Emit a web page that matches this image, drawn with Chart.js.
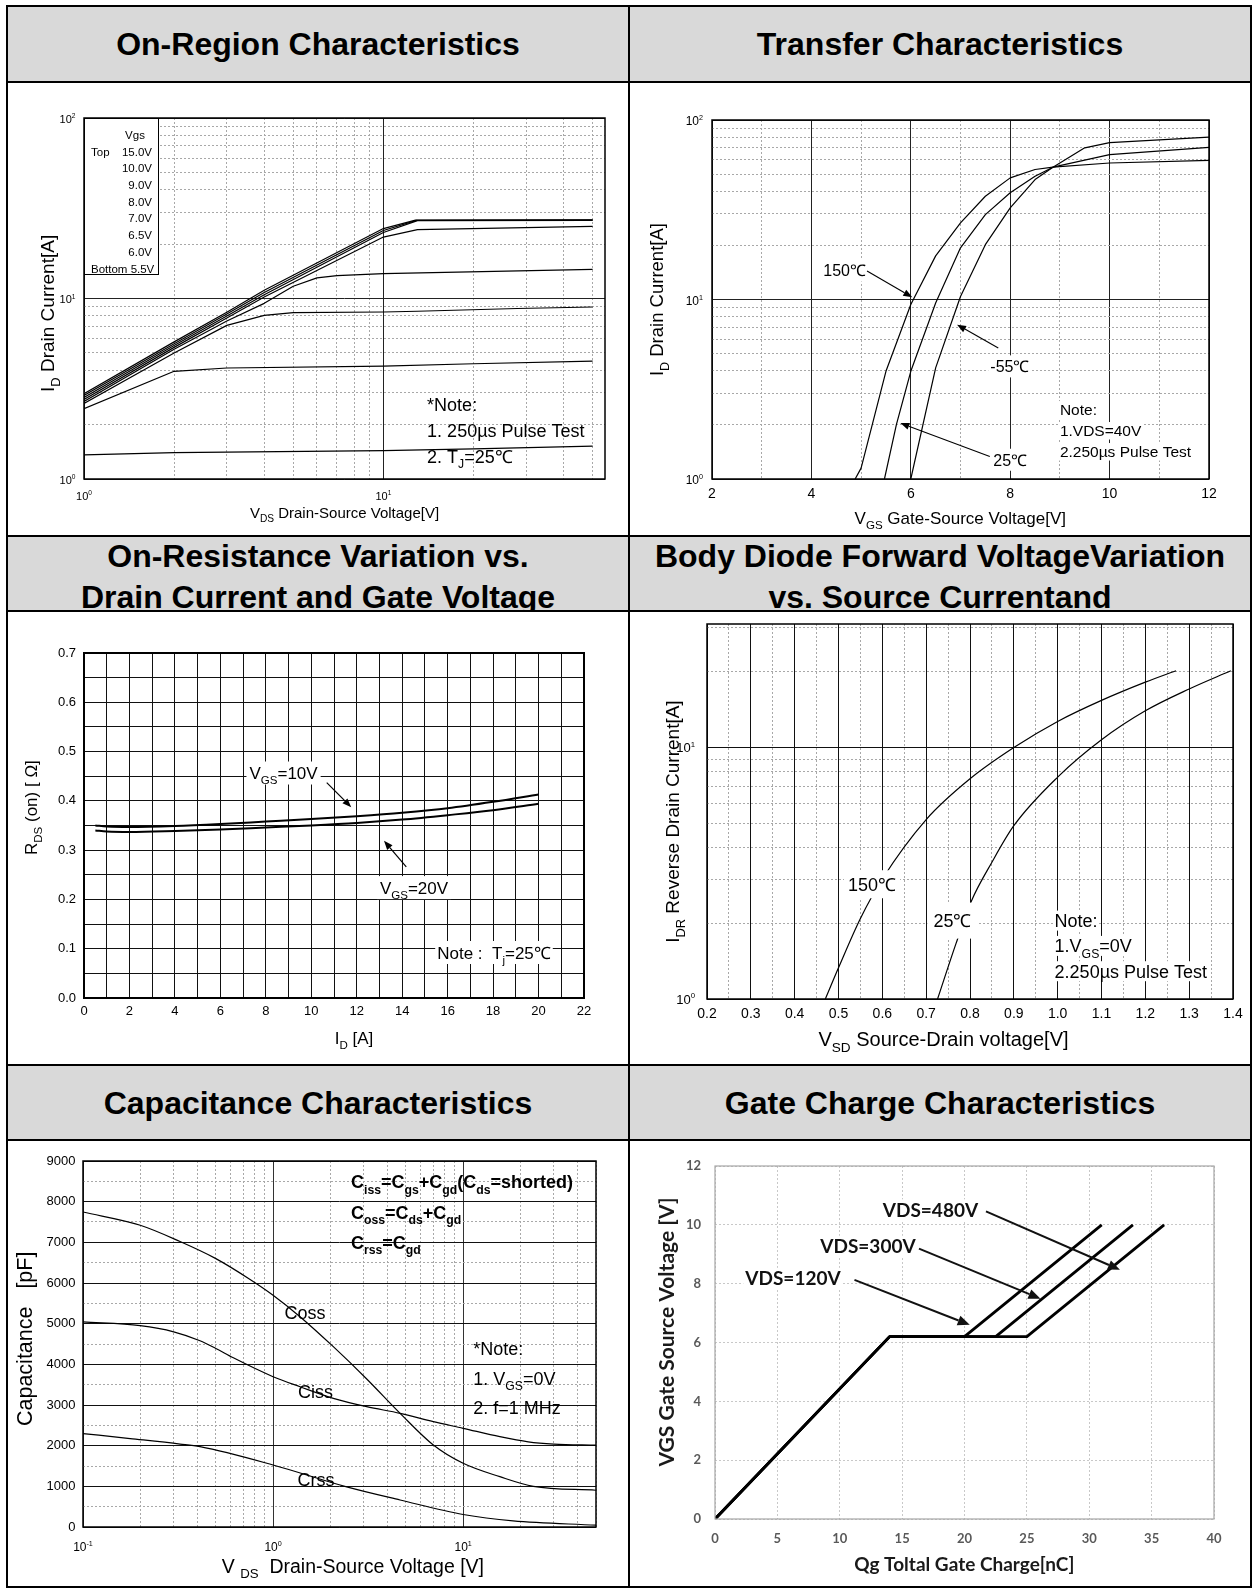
<!DOCTYPE html>
<html>
<head>
<meta charset="utf-8">
<title>MOSFET characteristic curves</title>
<script src="https://cdn.jsdelivr.net/npm/chart.js@4.4.1/dist/chart.umd.min.js"></script>
<style>
html,body{margin:0;padding:0;background:#fff;}
#page{position:relative;width:1254px;height:1589px;overflow:hidden;background:#fff;}
.hdr{position:absolute;background:#d9d9d9;overflow:hidden;}
.hdr div{position:absolute;left:0;right:0;text-align:center;font:bold 32px/41px "Liberation Sans",Arial,sans-serif;color:#000;white-space:nowrap;}
.ln{position:absolute;background:#000;z-index:5;}
canvas{position:absolute;}
</style>
</head>
<body>
<div id="page">
  <div class="hdr" style="left:8px;top:7px;width:620px;height:74px"><div style="top:17px">On-Region Characteristics</div></div>
  <div class="hdr" style="left:630px;top:7px;width:620px;height:74px"><div style="top:17px">Transfer Characteristics</div></div>
  <div class="hdr" style="left:8px;top:537px;width:620px;height:73px"><div style="top:-1.5px">On-Resistance Variation vs.<br>Drain Current and Gate Voltage</div></div>
  <div class="hdr" style="left:630px;top:537px;width:620px;height:73px"><div style="top:-1.5px">Body Diode Forward VoltageVariation<br>vs. Source Currentand</div></div>
  <div class="hdr" style="left:8px;top:1066px;width:620px;height:73px"><div style="top:16.5px">Capacitance Characteristics</div></div>
  <div class="hdr" style="left:630px;top:1066px;width:620px;height:73px"><div style="top:16.5px">Gate Charge Characteristics</div></div>

  <div class="ln" style="left:6px;top:5px;width:2px;height:1583px"></div>
  <div class="ln" style="left:628px;top:5px;width:2px;height:1583px"></div>
  <div class="ln" style="left:1250px;top:5px;width:2px;height:1583px"></div>
  <div class="ln" style="left:6px;top:5px;width:1246px;height:2px"></div>
  <div class="ln" style="left:6px;top:81px;width:1246px;height:2px"></div>
  <div class="ln" style="left:6px;top:535px;width:1246px;height:2px"></div>
  <div class="ln" style="left:6px;top:610px;width:1246px;height:2px"></div>
  <div class="ln" style="left:6px;top:1064px;width:1246px;height:2px"></div>
  <div class="ln" style="left:6px;top:1139px;width:1246px;height:2px"></div>
  <div class="ln" style="left:6px;top:1586px;width:1246px;height:2px"></div>
</div>
<script>
const FONT = '"Liberation Sans", Arial, Helvetica, sans-serif';
const FONT6 = 'Lato, "Liberation Sans", Arial, sans-serif';

// ================= DATA =================
// --- Chart 1: On-Region Characteristics (log-log) ---
const onXTicks = [1,2,3,4,5,6,7,8,9,10,20,30,40,50];
const onYTicks = [1,2,3,4,5,6,7,8,9,10,20,30,40,50,60,70,80,90,100];
const onXLabelVals = [1,10];
const onYLabelVals = [1,10,100];
const onLegendTitle = 'Vgs';
const onLegendLabels = ['15.0V','10.0V','9.0V','8.0V','7.0V','6.5V','6.0V','5.5V'];
const on15Vds = [1,2,3,4,10,12.8,50];
const on15Id  = [2.97,5.75,8.4,11.1,24.4,27.2,27.3];
const on10Vds = [1,2,3,4,10,12.9,50];
const on10Id  = [2.90,5.62,8.2,10.8,23.8,27.1,27.2];
const on9Vds  = [1,2,3,4,10,13.0,50];
const on9Id   = [2.83,5.49,8.0,10.5,23.2,27.0,27.1];
const on8Vds  = [1,2,3,4,10,13.0,50];
const on8Id   = [2.76,5.36,7.8,10.2,21.9,24.1,25.1];
const on7Vds  = [1,2,3,4,5,6,7,10,50];
const on7Id   = [2.69,5.24,7.5,9.4,11.7,13.0,13.4,13.75,14.5];
const on65Vds = [1,2,3,4,5,10,13,28,50];
const on65Id  = [2.62,4.99,7.1,8.07,8.35,8.42,8.5,8.8,8.97];
const on6Vds  = [1,2,3,10,20,50];
const on6Id   = [2.45,3.95,4.12,4.22,4.35,4.5];
const on55Vds = [1,2,10,20,50];
const on55Id  = [1.36,1.40,1.435,1.47,1.52];

// --- Chart 2: Transfer Characteristics ---
const trXTicks = [2,3,4,5,6,7,8,9,10,11,12];
const trYTicks = [1,2,3,4,5,6,7,8,9,10,20,30,40,50,60,70,80,90,100];
const trYLabelVals = [1,10,100];
const tr150Vgs = [4.88,5.0,5.5,6.0,6.5,7.0,7.5,8.0,8.5,8.86,10,12];
const tr150Id  = [1.0,1.15,3.98,9.37,17.5,26.7,37.6,47.6,53.0,54.6,57.6,59.6];
const tr25Vgs  = [5.47,5.71,6.0,6.5,7.0,7.5,8.0,8.5,8.86,10,12];
const tr25Id   = [1.0,2.01,3.98,9.57,19.4,29.7,39.3,48.6,54.6,64.2,70.3];
const trM55Vgs = [6.0,6.5,7.0,7.5,8.0,8.5,8.86,9.5,10,12];
const trM55Id  = [1.0,4.16,10.4,20.2,32.4,46.6,54.6,70.0,74.8,80.2];

// --- Chart 3: On-Resistance vs Drain Current ---
const rdsXTicks = [0,1,2,3,4,5,6,7,8,9,10,11,12,13,14,15,16,17,18,19,20,21,22];
const rdsYTicks = [0,0.05,0.1,0.15,0.2,0.25,0.3,0.35,0.4,0.45,0.5,0.55,0.6,0.65,0.7];
const rdsId  = [0.5,1,2,4,6,8,10,12,14,16,18,20];
const rds10V = [0.350,0.348,0.347,0.349,0.353,0.358,0.363,0.369,0.376,0.385,0.398,0.413];
const rds20V = [0.340,0.338,0.337,0.339,0.342,0.346,0.350,0.355,0.362,0.371,0.381,0.394];

// --- Chart 4: Body Diode Forward Voltage ---
const bdXTicks = [0.2,0.25,0.3,0.35,0.4,0.45,0.5,0.55,0.6,0.65,0.7,0.75,0.8,0.85,0.9,0.95,1.0,1.05,1.1,1.15,1.2,1.25,1.3,1.35,1.4];
const bdYTicks = [1,2,3,4,5,6,7,8,9,10,20,30];
const bdYLabelVals = [1,10];
const bd150Vsd = [0.47,0.5,0.55,0.6,0.7,0.8,0.9,1.0,1.1,1.2,1.27];
const bd150Idr = [1.0,1.33,2.09,3.0,5.17,7.51,10.0,12.7,15.4,18.2,20.2];
const bd25Vsd  = [0.726,0.768,0.803,0.85,0.9,1.0,1.1,1.2,1.3,1.395];
const bd25Idr  = [1.0,1.66,2.45,3.5,4.89,7.63,10.74,14.0,17.1,20.2];

// --- Chart 5: Capacitance Characteristics ---
const capXTicks = [0.1,0.2,0.3,0.4,0.5,0.6,0.7,0.8,0.9,1,2,3,4,5,6,7,8,9,10,20,30,40,50];
const capYTicks = [0,500,1000,1500,2000,2500,3000,3500,4000,4500,5000,5500,6000,6500,7000,7500,8000,8500,9000];
const capXLabelVals = [0.1,1,10];
const cossVds = [0.1,0.2,0.324,0.5,0.75,1.0,1.386,2.075,3.11,4.66,6.97,10,15.6,23.4,50];
const cossPf  = [7746,7420,7020,6600,6100,5700,5172,4434,3640,2795,2016,1566,1237,1000,904];
const cissVds = [0.1,0.2,0.3,0.4126,0.5,0.618,1.0,1.386,2.075,3.11,4.66,6.97,10,15.6,22,30,50];
const cissPf  = [5042,4950,4800,4580,4390,4160,3696,3450,3164,2958,2795,2590,2427,2221,2095,2040,2011];
const crssVds = [0.1,0.177,0.324,0.4126,1.0,2.44,4.66,10,18.3,50];
const crssPf  = [2298,2175,2040,1975,1525,986,664,307,150,44];

// --- Chart 6: Gate Charge Characteristics ---
const gcXTicks = [0,5,10,15,20,25,30,35,40];
const gcYTicks = [0,2,4,6,8,10,12];
const gc120Qg  = [0,14,20,31];
const gc120Vgs = [0,6.2,6.2,10];
const gc300Qg  = [0,14,22.5,33.5];
const gc300Vgs = [0,6.2,6.2,10];
const gc480Qg  = [0,14,25,36];
const gc480Vgs = [0,6.2,6.2,10];

// ================= HELPERS =================
const page = document.getElementById('page');
const isPow10 = v => Math.abs(Math.log10(v) - Math.round(Math.log10(v))) < 1e-6;
const isTenth = v => Math.abs(Math.round(v * 100) % 10) === 0;

function pts(xs, ys) { return xs.map((x, i) => ({x: x, y: ys[i]})); }
function ds(xs, ys, w, smooth) {
  return {data: pts(xs, ys), borderColor: '#000', borderWidth: w, pointRadius: 0, fill: false,
          tension: 0, cubicInterpolationMode: smooth ? 'monotone' : 'default', borderJoinStyle: 'round'};
}

function rich(ctx, segs, x, y, o) {
  const size = o.size, fam = o.family || FONT, wt = o.weight || 'normal';
  const parts = segs.map(s => {
    const m = s[1] || '';
    const fs = m === 'sub' ? size * 0.68 : m === 'sup' ? size * 0.6 : size;
    ctx.font = wt + ' ' + fs + 'px ' + fam;
    return {t: s[0], m: m, fs: fs, w: ctx.measureText(s[0]).width};
  });
  const W = parts.reduce((acc, p) => acc + p.w, 0);
  let sx = o.align === 'center' ? x - W / 2 : o.align === 'right' ? x - W : x;
  if (o.bg) {
    const px = o.padX !== undefined ? o.padX : 2, py = o.padY !== undefined ? o.padY : 3;
    ctx.fillStyle = o.bg;
    ctx.fillRect(sx - px, y - size * 0.5 - py, W + 2 * px, size + 2 * py);
  }
  ctx.fillStyle = o.color || '#000';
  ctx.textAlign = 'left';
  ctx.textBaseline = 'alphabetic';
  const base = y + size * 0.36;
  for (const p of parts) {
    ctx.font = wt + ' ' + p.fs + 'px ' + fam;
    const dy = p.m === 'sub' ? size * 0.3 : p.m === 'sup' ? -size * 0.42 : 0;
    ctx.fillText(p.t, sx, base + dy);
    sx += p.w;
  }
  return W;
}
function richRot(ctx, segs, cx, cy, o) {
  ctx.save(); ctx.translate(cx, cy); ctx.rotate(-Math.PI / 2);
  rich(ctx, segs, 0, 0, Object.assign({}, o, {align: 'center'}));
  ctx.restore();
}
function logLabel(ctx, v, x, y, size, align) {
  const e = Math.round(Math.log10(v));
  rich(ctx, [['10'], [String(e), 'sup']], x, y, {size: size, align: align});
}
function arrow(ctx, x1, y1, x2, y2, lw, head, hw, color) {
  ctx.save();
  ctx.strokeStyle = color || '#000'; ctx.fillStyle = color || '#000'; ctx.lineWidth = lw;
  const a = Math.atan2(y2 - y1, x2 - x1);
  const bx = x2 - head * Math.cos(a), by = y2 - head * Math.sin(a);
  ctx.beginPath(); ctx.moveTo(x1, y1); ctx.lineTo(bx, by); ctx.stroke();
  ctx.beginPath(); ctx.moveTo(x2, y2);
  ctx.lineTo(bx + hw * Math.sin(a), by - hw * Math.cos(a));
  ctx.lineTo(bx - hw * Math.sin(a), by + hw * Math.cos(a));
  ctx.closePath(); ctx.fill();
  ctx.restore();
}
function frame(ctx, a, color, w) {
  ctx.save(); ctx.strokeStyle = color; ctx.lineWidth = w;
  ctx.strokeRect(a.left, a.top, a.right - a.left, a.bottom - a.top);
  ctx.restore();
}

function axis(a, size, horiz) {
  const solid = a.solid || (() => true);
  return {
    type: a.type, min: a.min, max: a.max, position: horiz ? 'bottom' : 'left',
    afterBuildTicks: s => { s.ticks = a.ticks.map(v => ({value: v})); },
    afterFit: s => {
      if (horiz) s.height = size; else s.width = size;
      s.paddingLeft = 0; s.paddingRight = 0; s.paddingTop = 0; s.paddingBottom = 0;
    },
    ticks: {
      autoSkip: false, maxRotation: 0, minRotation: 0, padding: a.pad || 0,
      color: a.tickColor || '#000',
      font: {family: a.family || FONT, size: a.fontSize || 12, weight: a.fontWeight || 'normal'},
      callback: a.label || (() => '')
    },
    grid: {
      drawTicks: false,
      color: c => c.tick ? (solid(c.tick.value) ? a.solidColor : a.dotColor) : a.solidColor,
      lineWidth: c => c.tick ? (solid(c.tick.value) ? (a.solidWidth || 1) : 1) : 1
    },
    border: {display: false, dash: c => (c.tick && !solid(c.tick.value)) ? (a.dash || [2, 2]) : []}
  };
}

function makeChart(cell, plot, datasets, xa, ya, deco) {
  const yW = 40, xH = 30;
  const cv = document.createElement('canvas');
  cv.width = cell.w; cv.height = cell.h;
  cv.style.left = cell.x + 'px'; cv.style.top = cell.y + 'px';
  cv.style.width = cell.w + 'px'; cv.style.height = cell.h + 'px';
  page.appendChild(cv);
  return new Chart(cv, {
    type: 'line',
    data: {datasets: datasets},
    options: {
      responsive: false, maintainAspectRatio: false, animation: false, devicePixelRatio: 1, events: [],
      layout: {padding: {left: plot.l - cell.x - yW, top: plot.t - cell.y,
                         right: cell.x + cell.w - plot.r, bottom: cell.y + cell.h - plot.b - xH}},
      plugins: {legend: {display: false}, tooltip: {enabled: false}, title: {display: false}},
      scales: {x: axis(xa, xH, true), y: axis(ya, yW, false)}
    },
    plugins: [{
      id: 'deco',
      afterDraw(c) {
        const ctx = c.ctx, ca = c.chartArea;
        ctx.save(); ctx.translate(-cell.x, -cell.y);
        const a = {left: ca.left + cell.x, right: ca.right + cell.x, top: ca.top + cell.y, bottom: ca.bottom + cell.y};
        deco(ctx, a, v => c.scales.x.getPixelForValue(v) + cell.x, v => c.scales.y.getPixelForValue(v) + cell.y);
        ctx.restore();
      }
    }]
  });
}

// ================= CHART 1 =================
makeChart({x: 8, y: 83, w: 620, h: 452}, {l: 84, t: 118, r: 605, b: 479},
  [ds(on15Vds, on15Id, 1.2), ds(on10Vds, on10Id, 1.2), ds(on9Vds, on9Id, 1.2), ds(on8Vds, on8Id, 1.2),
   ds(on7Vds, on7Id, 1.2), ds(on65Vds, on65Id, 1.2), ds(on6Vds, on6Id, 1.2), ds(on55Vds, on55Id, 1.2)],
  {type: 'logarithmic', min: 1, max: 55, ticks: onXTicks, solid: isPow10, solidColor: '#222', dotColor: '#a8a8a8'},
  {type: 'logarithmic', min: 1, max: 100, ticks: onYTicks, solid: isPow10, solidColor: '#222', dotColor: '#a8a8a8'},
  (ctx, a, X, Y) => {
    frame(ctx, a, '#000', 1.5);
    ctx.fillStyle = '#fff'; ctx.fillRect(a.left + 1, a.top + 1, 74, 156);
    ctx.strokeStyle = '#000'; ctx.lineWidth = 1; ctx.strokeRect(a.left + 0.5, a.top + 0.5, 74, 156);
    const lf = 11.5;
    rich(ctx, [[onLegendTitle]], a.left + 51, a.top + 17, {size: lf, align: 'center'});
    onLegendLabels.slice(0, 7).forEach((t, i) => rich(ctx, [[t]], a.left + 68, a.top + 33.5 + 16.7 * i, {size: lf, align: 'right'}));
    rich(ctx, [['Top']], a.left + 7, a.top + 33.5, {size: lf});
    rich(ctx, [['Bottom ' + onLegendLabels[7]]], a.left + 7, a.top + 33.5 + 16.7 * 7, {size: lf});
    const nx = X(14), ny = Y(2.57);
    rich(ctx, [['*Note:']], nx, ny, {size: 18});
    rich(ctx, [['1. 250µs Pulse Test']], nx, ny + 25.8, {size: 18});
    rich(ctx, [['2. T'], ['J', 'sub'], ['=25℃']], nx, ny + 51.6, {size: 18});
    onYLabelVals.forEach(v => logLabel(ctx, v, a.left - 8.5, Y(v) + 1, 11, 'right'));
    onXLabelVals.forEach(v => logLabel(ctx, v, X(v), a.bottom + 17, 11, 'center'));
    rich(ctx, [['V'], ['DS', 'sub'], [' Drain-Source Voltage[V]']], 344.5, 512.4, {size: 15, align: 'center'});
    richRot(ctx, [['I'], ['D', 'sub'], [' Drain Current[A]']], 47, 313.4, {size: 19});
  });

// ================= CHART 2 =================
makeChart({x: 630, y: 83, w: 620, h: 452}, {l: 712, t: 120, r: 1209, b: 479},
  [ds(tr150Vgs, tr150Id, 1.2), ds(tr25Vgs, tr25Id, 1.2), ds(trM55Vgs, trM55Id, 1.2)],
  {type: 'linear', min: 2, max: 12, ticks: trXTicks, solid: v => v % 2 === 0, solidColor: '#222', dotColor: '#a8a8a8',
   pad: 7, fontSize: 14, label: v => (v % 2 === 0 ? String(v) : '')},
  {type: 'logarithmic', min: 1, max: 100, ticks: trYTicks, solid: isPow10, solidColor: '#222', dotColor: '#a8a8a8'},
  (ctx, a, X, Y) => {
    frame(ctx, a, '#000', 1.5);
    trYLabelVals.forEach(v => logLabel(ctx, v, a.left - 9, Y(v) + 1, 12, 'right'));
    rich(ctx, [['150℃']], X(4.24), Y(14.5), {size: 16, bg: '#fff'});
    arrow(ctx, X(5.12), Y(14.4), X(6.03), Y(10.3), 1.1, 9, 3.5);
    rich(ctx, [['-55℃']], X(7.60), Y(4.24), {size: 16, bg: '#fff'});
    arrow(ctx, X(7.76), Y(5.37), X(6.93), Y(7.24), 1.1, 9, 3.5);
    rich(ctx, [['25℃']], X(7.66), Y(1.28), {size: 16, bg: '#fff'});
    arrow(ctx, X(7.59), Y(1.336), X(5.79), Y(2.05), 1.1, 9, 3.5);
    const nx = X(9.0), ny = Y(2.43);
    rich(ctx, [['Note:']], nx, ny, {size: 15.5, bg: '#fff', padX: 1, padY: 1});
    rich(ctx, [['1.VDS=40V']], nx, ny + 21, {size: 15.5, bg: '#fff', padX: 1, padY: 1});
    rich(ctx, [['2.250µs Pulse Test']], nx, ny + 42, {size: 15.5, bg: '#fff', padX: 1, padY: 1});
    rich(ctx, [['V'], ['GS', 'sub'], [' Gate-Source Voltage[V]']], 960.3, 518.2, {size: 17, align: 'center'});
    richRot(ctx, [['I'], ['D', 'sub'], [' Drain Current[A]']], 656.4, 299.6, {size: 18.5});
  });

// ================= CHART 3 =================
makeChart({x: 8, y: 612, w: 620, h: 452}, {l: 84, t: 653, r: 584, b: 998},
  [ds(rdsId, rds10V, 2, true), ds(rdsId, rds20V, 2, true)],
  {type: 'linear', min: 0, max: 22, ticks: rdsXTicks, solidColor: '#111', pad: 6, fontSize: 13,
   label: v => (v % 2 === 0 ? String(v) : '')},
  {type: 'linear', min: 0, max: 0.7, ticks: rdsYTicks, solidColor: '#111', pad: 8, fontSize: 13,
   label: v => (isTenth(v) ? v.toFixed(1) : '')},
  (ctx, a, X, Y) => {
    frame(ctx, a, '#000', 2);
    rich(ctx, [['V'], ['GS', 'sub'], ['=10V']], X(8.78), Y(0.4565), {size: 17, align: 'center', bg: '#fff', padX: 3, padY: 3});
    arrow(ctx, X(10.68), Y(0.437), X(11.76), Y(0.387), 1.2, 9, 3.5);
    rich(ctx, [['V'], ['GS', 'sub'], ['=20V']], X(14.52), Y(0.224), {size: 17, align: 'center', bg: '#fff', padX: 3, padY: 3});
    arrow(ctx, X(14.18), Y(0.266), X(13.2), Y(0.319), 1.2, 9, 3.5);
    rich(ctx, [['Note :  T'], ['j', 'sub'], ['=25℃']], X(18.04), Y(0.0923), {size: 17, align: 'center', bg: '#fff', padX: 2, padY: 3});
    rich(ctx, [['I'], ['D', 'sub'], [' [A]']], 354, 1037.4, {size: 17, align: 'center'});
    richRot(ctx, [['R'], ['DS', 'sub'], [' (on) [ Ω]']], 30.6, 807.6, {size: 17});
  });

// ================= CHART 4 =================
makeChart({x: 630, y: 612, w: 620, h: 452}, {l: 707, t: 624, r: 1233, b: 999},
  [ds(bd150Vsd, bd150Idr, 1.2, true), ds(bd25Vsd, bd25Idr, 1.2, true)],
  {type: 'linear', min: 0.2, max: 1.4, ticks: bdXTicks, solid: isTenth, solidColor: '#111', dotColor: '#a8a8a8',
   pad: 7, fontSize: 14, label: v => (isTenth(v) ? v.toFixed(1) : '')},
  {type: 'logarithmic', min: 1, max: 31, ticks: bdYTicks, solid: isPow10, solidColor: '#111', dotColor: '#a8a8a8'},
  (ctx, a, X, Y) => {
    frame(ctx, a, '#000', 1.5);
    bdYLabelVals.forEach(v => logLabel(ctx, v, a.left - 12, Y(v), 13, 'right'));
    rich(ctx, [['150℃']], X(0.5765), Y(2.86), {size: 18, align: 'center', bg: '#fff', padX: 4, padY: 5});
    rich(ctx, [['25℃']], X(0.760), Y(2.05), {size: 18, align: 'center', bg: '#fff', padX: 6, padY: 9});
    const nx = X(0.993), ny = Y(2.05);
    rich(ctx, [['Note:']], nx, ny, {size: 18, bg: '#fff', padX: 1, padY: 1});
    rich(ctx, [['1.V'], ['GS', 'sub'], ['=0V']], nx, ny + 25.3, {size: 18, bg: '#fff', padX: 1, padY: 1});
    rich(ctx, [['2.250µs Pulse Test']], nx, ny + 50.6, {size: 18, bg: '#fff', padX: 1, padY: 1});
    rich(ctx, [['V'], ['SD', 'sub'], [' Source-Drain voltage[V]']], 943.5, 1039, {size: 20, align: 'center'});
    richRot(ctx, [['I'], ['DR', 'sub'], [' Reverse Drain Current[A]']], 672.6, 821.6, {size: 19});
  });

// ================= CHART 5 =================
makeChart({x: 8, y: 1141, w: 620, h: 445}, {l: 83, t: 1161, r: 596, b: 1527},
  [ds(cossVds, cossPf, 1.2, true), ds(cissVds, cissPf, 1.2, true), ds(crssVds, crssPf, 1.2, true)],
  {type: 'logarithmic', min: 0.1, max: 50, ticks: capXTicks, solid: isPow10, solidColor: '#333', dotColor: '#a8a8a8'},
  {type: 'linear', min: 0, max: 9000, ticks: capYTicks, solid: v => v % 1000 === 0, solidColor: '#111', dotColor: '#a8a8a8',
   pad: 7.5, fontSize: 13, label: v => (v % 1000 === 0 ? String(v) : '')},
  (ctx, a, X, Y) => {
    frame(ctx, a, '#000', 1.5);
    capXLabelVals.forEach(v => logLabel(ctx, v, X(v), a.bottom + 19.7, 12, 'center'));
    rich(ctx, [['Coss']], X(1.472), Y(5262), {size: 18, align: 'center'});
    rich(ctx, [['Ciss']], X(1.672), Y(3320), {size: 18, align: 'center'});
    rich(ctx, [['Crss']], X(1.68), Y(1163), {size: 18, align: 'center'});
    const fx = X(2.57), fy = Y(8484), fb = {size: 18, weight: 'bold'};
    rich(ctx, [['C'], ['iss', 'sub'], ['=C'], ['gs', 'sub'], ['+C'], ['gd', 'sub'], ['(C'], ['ds', 'sub'], ['=shorted)']], fx, fy, fb);
    rich(ctx, [['C'], ['oss', 'sub'], ['=C'], ['ds', 'sub'], ['+C'], ['gd', 'sub']], fx, fy + 30.5, fb);
    rich(ctx, [['C'], ['rss', 'sub'], ['=C'], ['gd', 'sub']], fx, fy + 60.5, fb);
    const nx = X(11.3), ny = Y(4377);
    rich(ctx, [['*Note:']], nx, ny, {size: 18});
    rich(ctx, [['1. V'], ['GS', 'sub'], ['=0V']], nx, ny + 29.3, {size: 18});
    rich(ctx, [['2. f=1 MHz']], nx, ny + 58.6, {size: 18});
    rich(ctx, [['V '], ['DS', 'sub'], ['  Drain-Source Voltage [V]']], 352.9, 1565.6, {size: 19.5, align: 'center'});
    richRot(ctx, [['Capacitance   [pF]']], 24.5, 1338.8, {size: 21.5});
  });

// ================= CHART 6 =================
makeChart({x: 630, y: 1141, w: 620, h: 445}, {l: 715, t: 1166, r: 1214, b: 1519},
  [ds(gc120Qg, gc120Vgs, 2.8), ds(gc300Qg, gc300Vgs, 2.8), ds(gc480Qg, gc480Vgs, 2.8)],
  {type: 'linear', min: 0, max: 40, ticks: gcXTicks, solid: () => false, solidColor: '#c8c8c8', dotColor: '#c8c8c8',
   pad: 12, fontSize: 13, family: FONT6, fontWeight: 'bold', tickColor: '#595959', label: v => String(v)},
  {type: 'linear', min: 0, max: 12, ticks: gcYTicks, solid: () => false, solidColor: '#c8c8c8', dotColor: '#c8c8c8',
   pad: 14, fontSize: 13, family: FONT6, fontWeight: 'bold', tickColor: '#595959', label: v => String(v)},
  (ctx, a, X, Y) => {
    frame(ctx, a, '#a6a6a6', 1.2);
    const lb = {size: 19, weight: 'bold', family: FONT6, align: 'center', bg: '#fff', padX: 2, padY: 1, color: '#111'};
    rich(ctx, [['VDS=480V']], X(17.27), Y(10.51), lb);
    arrow(ctx, X(21.72), Y(10.46), X(32.46), Y(8.47), 2, 12, 5, '#111');
    rich(ctx, [['VDS=300V']], X(12.26), Y(9.27), lb);
    arrow(ctx, X(16.35), Y(9.19), X(26.09), Y(7.49), 2, 12, 5, '#111');
    rich(ctx, [['VDS=120V']], X(6.25), Y(8.18), lb);
    arrow(ctx, X(11.18), Y(8.13), X(20.42), Y(6.60), 2, 12, 5, '#111');
    rich(ctx, [['Qg Toltal Gate Charge[nC]']], 964.3, 1564, {size: 19, weight: 'bold', family: FONT6, align: 'center', color: '#1a1a1a'});
    richRot(ctx, [['VGS Gate Source Voltage [V]']], 666.5, 1332, {size: 21, weight: 'bold', family: FONT6, color: '#1a1a1a'});
  });
</script>
</body>
</html>
